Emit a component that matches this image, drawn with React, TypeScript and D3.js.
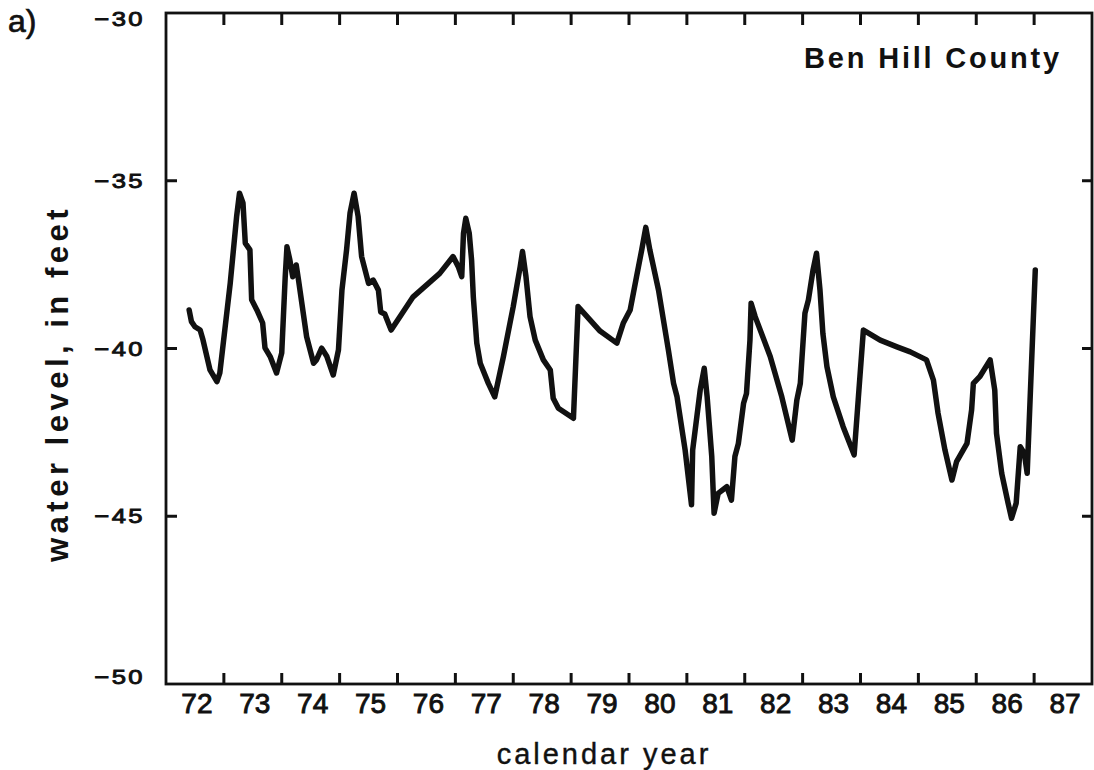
import React from "react";
import * as d3 from "d3";

const dates = [
  1972.40, 1972.44, 1972.50, 1972.59, 1972.64, 1972.76, 1972.88, 1972.93, 1973.11, 1973.22,
  1973.27, 1973.33, 1973.37, 1973.45, 1973.48, 1973.57, 1973.67, 1973.71, 1973.80, 1973.91,
  1974.00, 1974.06, 1974.09, 1974.14, 1974.19, 1974.25, 1974.29, 1974.43, 1974.55, 1974.60,
  1974.69, 1974.78, 1974.89, 1974.98, 1975.04, 1975.12, 1975.18, 1975.25, 1975.32, 1975.38,
  1975.50, 1975.58, 1975.67, 1975.71, 1975.78, 1975.89, 1976.27, 1976.73, 1976.96, 1977.05,
  1977.11, 1977.14, 1977.18, 1977.24, 1977.28, 1977.31, 1977.37, 1977.43, 1977.57, 1977.68,
  1977.83, 1978.00, 1978.12, 1978.16, 1978.22, 1978.29, 1978.38, 1978.52, 1978.64, 1978.69,
  1978.78, 1979.04, 1979.12, 1979.50, 1979.79, 1979.90, 1980.02, 1980.13, 1980.22, 1980.29,
  1980.36, 1980.51, 1980.68, 1980.77, 1980.83, 1980.97, 1981.08, 1981.10, 1981.23, 1981.30,
  1981.35, 1981.43, 1981.47, 1981.54, 1981.69, 1981.77, 1981.83, 1981.89, 1981.98, 1982.03,
  1982.09, 1982.11, 1982.18, 1982.44, 1982.64, 1982.82, 1982.90, 1982.96, 1983.04, 1983.10,
  1983.18, 1983.24, 1983.30, 1983.35, 1983.42, 1983.53, 1983.70, 1983.89, 1983.96, 1984.05,
  1984.34, 1984.63, 1984.86, 1985.14, 1985.26, 1985.34, 1985.46, 1985.58, 1985.66, 1985.84,
  1985.92, 1985.95, 1986.06, 1986.24, 1986.32, 1986.35, 1986.44, 1986.55, 1986.61, 1986.69,
  1986.76, 1986.83, 1986.88, 1986.93, 1987.02,
];

const levels = [
  -38.85, -39.20, -39.35, -39.45, -39.75, -40.64, -40.99, -40.73, -38.05, -36.07,
  -35.37, -35.66, -36.86, -37.06, -38.55, -38.85, -39.24, -39.98, -40.24, -40.73,
  -40.13, -37.86, -36.97, -37.36, -37.86, -37.51, -37.96, -39.65, -40.44, -40.34,
  -39.99, -40.24, -40.79, -40.04, -38.26, -37.06, -35.96, -35.37, -36.07, -37.26,
  -38.06, -37.96, -38.26, -38.91, -38.97, -39.45, -38.46, -37.76, -37.26, -37.56,
  -37.86, -36.57, -36.12, -36.57, -37.36, -38.46, -39.84, -40.44, -41.04, -41.44,
  -40.24, -38.75, -37.56, -37.11, -37.86, -39.05, -39.75, -40.34, -40.64, -41.48,
  -41.78, -42.08, -38.75, -39.48, -39.84, -39.25, -38.85, -37.86, -37.06, -36.39,
  -37.06, -38.26, -40.04, -41.04, -41.44, -43.03, -44.66, -43.03, -41.24, -40.59,
  -41.44, -43.22, -44.91, -44.32, -44.12, -44.52, -43.22, -42.83, -41.63, -41.34,
  -39.75, -38.65, -39.05, -40.24, -41.44, -42.73, -41.54, -41.04, -38.95, -38.55,
  -37.66, -37.16, -38.26, -39.55, -40.54, -41.44, -42.33, -43.17, -41.54, -39.45,
  -39.75, -39.95, -40.10, -40.34, -40.94, -41.93, -43.03, -43.92, -43.37, -42.83,
  -41.83, -41.04, -40.84, -40.34, -41.24, -42.53, -43.72, -44.61, -45.06, -44.61,
  -42.93, -43.12, -43.72, -41.54, -37.66,
];

const yearLabels = ["72", "73", "74", "75", "76", "77", "78", "79", "80", "81", "82", "83", "84", "85", "86", "87"];
const yearTicks = [1973, 1974, 1975, 1976, 1977, 1978, 1979, 1980, 1981, 1982, 1983, 1984, 1985, 1986, 1987];
const levelTicks = [-30, -35, -40, -45, -50];
const sideTicks = [-35, -40, -45];

const W = 1094;
const H = 770;
const LEFT = 166;
const RIGHT = 1092;
const TOP = 13;
const BOTTOM = 684;

export default function App() {
  const x = d3.scaleLinear().domain([1972, 1988]).range([LEFT, RIGHT]);
  const y = d3.scaleLinear().domain([-50, -30]).range([BOTTOM, TOP]);

  const pts: [number, number][] = dates.map((d, i) => [d, levels[i]]);
  const line = d3
    .line<[number, number]>()
    .x((d) => x(d[0]))
    .y((d) => y(d[1]))
    .curve(d3.curveLinear);

  const font = "'Liberation Sans', Arial, Helvetica, sans-serif";
  const ink = "#111";

  return (
    <svg
      width={W}
      height={H}
      style={{ position: "absolute", left: 0, top: 0, background: "#fff" }}
      fontFamily={font}
    >
      <rect x={0} y={0} width={W} height={H} fill="#fff" />

      {/* frame */}
      <rect
        x={LEFT}
        y={TOP}
        width={RIGHT - LEFT}
        height={BOTTOM - TOP}
        fill="none"
        stroke={ink}
        strokeWidth={2.8}
      />

      {/* top & bottom ticks */}
      {yearTicks.map((t) => (
        <g key={"t" + t}>
          <line x1={x(t)} x2={x(t)} y1={TOP} y2={TOP + 12} stroke={ink} strokeWidth={3} />
          <line x1={x(t)} x2={x(t)} y1={BOTTOM} y2={BOTTOM - 11} stroke={ink} strokeWidth={3} />
        </g>
      ))}

      {/* left & right ticks */}
      {sideTicks.map((v) => (
        <g key={"s" + v}>
          <line x1={LEFT} x2={LEFT + 11} y1={y(v)} y2={y(v)} stroke={ink} strokeWidth={3} />
          <line x1={RIGHT} x2={RIGHT - 10} y1={y(v)} y2={y(v)} stroke={ink} strokeWidth={3} />
        </g>
      ))}

      {/* y tick labels */}
      {levelTicks.map((v, i) => (
        <text
          key={"yl" + v}
          transform={`translate(${LEFT - 21},${y(v) + (i === 0 ? 6 : i === levelTicks.length - 1 ? -7 : 0)}) scale(1.22,1)`}
          textAnchor="end"
          dominantBaseline="central"
          fontSize={21}
          letterSpacing={2}
          fill={ink}
          stroke={ink}
          strokeWidth={0.9}
        >
          {"\u2212" + Math.abs(v)}
        </text>
      ))}

      {/* x tick labels */}
      {yearLabels.map((lab, i) => (
        <text
          key={"xl" + lab}
          x={x(1972 + i + 0.5) + 2}
          y={713}
          textAnchor="middle"
          fontSize={28}
          fill={ink}
          stroke={ink}
          strokeWidth={0.9}
        >
          {lab}
        </text>
      ))}

      {/* axis titles */}
      <text
        x={604}
        y={764}
        textAnchor="middle"
        fontSize={29}
        letterSpacing={3}
        fill={ink}
        stroke={ink}
        strokeWidth={0.4}
      >
        calendar year
      </text>
      <text
        transform={`translate(68,${(TOP + BOTTOM) / 2 + 35}) rotate(-90)`}
        textAnchor="middle"
        fontSize={31}
        fontWeight="bold"
        letterSpacing={4.5}
        fill={ink}
      >
        water level, in feet
      </text>

      <text x={8} y={32} fontSize={32} fill={ink} stroke={ink} strokeWidth={0.7}>
        a)
      </text>

      <text
        x={1062}
        y={68}
        textAnchor="end"
        fontSize={29}
        fontWeight="bold"
        letterSpacing={2.8}
        fill={ink}
      >
        Ben Hill County
      </text>

      {/* data line */}
      <path
        d={line(pts) || ""}
        fill="none"
        stroke={ink}
        strokeWidth={5.5}
        strokeLinejoin="round"
        strokeLinecap="round"
      />
    </svg>
  );
}
